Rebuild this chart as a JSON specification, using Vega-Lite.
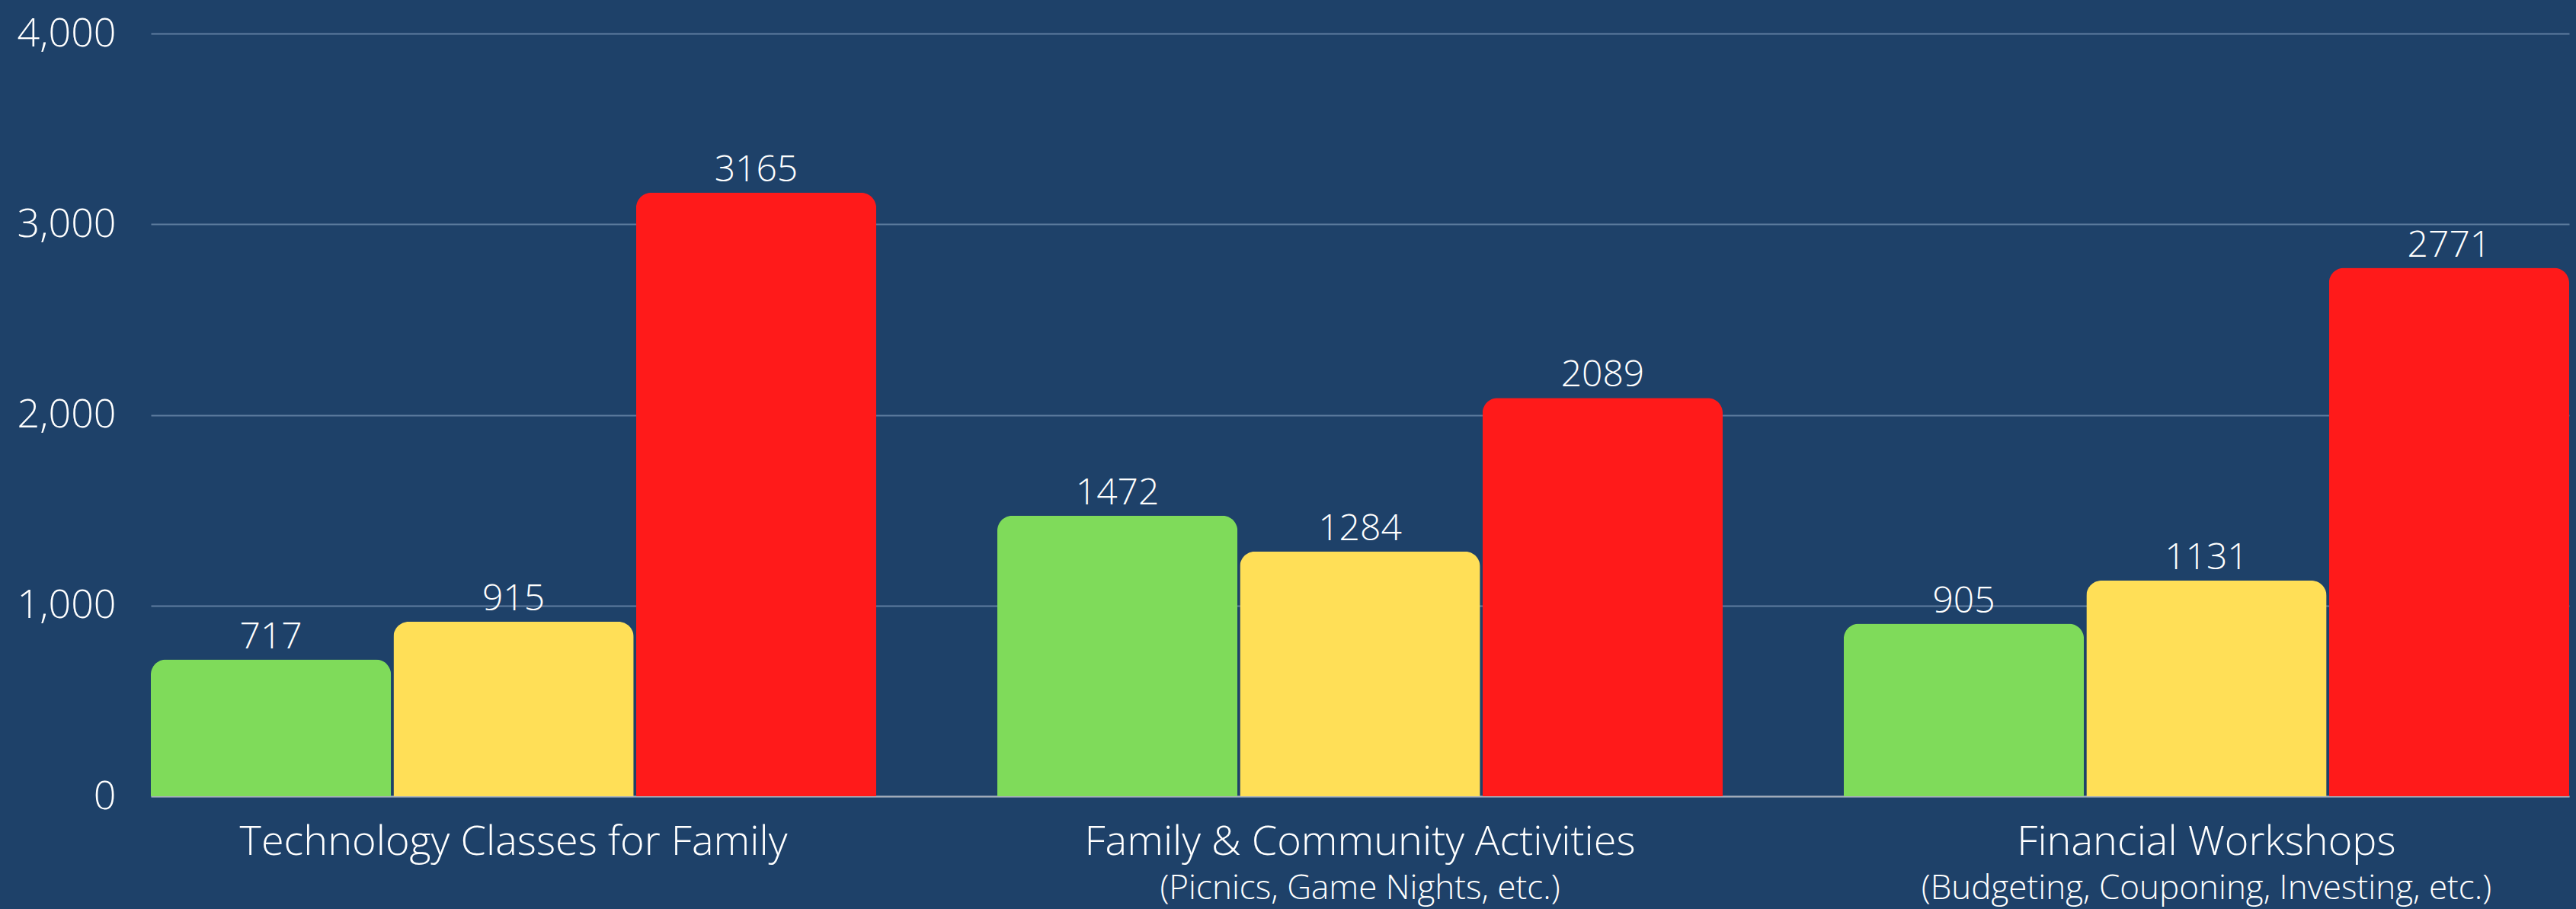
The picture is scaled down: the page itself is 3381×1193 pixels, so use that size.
{
  "$schema": "https://vega.github.io/schema/vega-lite/v6.json",
  "width": 3174,
  "height": 1001,
  "autosize": {"type": "none"},
  "padding": {"left": 198, "top": 44, "right": 9, "bottom": 148},
  "background": "#1E4169",
  "config": {"view": {"stroke": null}, "font": "Open Sans"},
  "data": {
    "values": [
      {"category": "Technology Classes for Family", "series": "Green", "value": 717},
      {"category": "Technology Classes for Family", "series": "Yellow", "value": 915},
      {"category": "Technology Classes for Family", "series": "Red", "value": 3165},
      {"category": "Family & Community Activities", "series": "Green", "value": 1472},
      {"category": "Family & Community Activities", "series": "Yellow", "value": 1284},
      {"category": "Family & Community Activities", "series": "Red", "value": 2089},
      {"category": "Financial Workshops", "series": "Green", "value": 905},
      {"category": "Financial Workshops", "series": "Yellow", "value": 1131},
      {"category": "Financial Workshops", "series": "Red", "value": 2771}
    ]
  },
  "encoding": {
    "x": {
      "field": "category",
      "type": "nominal",
      "sort": ["Technology Classes for Family", "Family & Community Activities", "Financial Workshops"],
      "scale": {"paddingInner": 0.143, "paddingOuter": 0},
      "axis": {
        "title": null,
        "labelAngle": 0,
        "labelColor": "#FFFFFF",
        "labelFontSize": 54,
        "labelFontWeight": 300,
        "labelFont": "Open Sans",
        "labelLimit": 2000,
        "labelPadding": 76,
        "labelBaseline": "alphabetic",
        "ticks": false,
        "tickSize": 0,
        "domain": true,
        "domainColor": "#A8B0BC",
        "domainWidth": 2,
        "grid": false
      }
    }
  },
  "layer": [
    {
      "mark": {"type": "bar", "cornerRadiusTopLeft": 20, "cornerRadiusTopRight": 20},
      "encoding": {
        "xOffset": {"field": "series", "type": "nominal", "sort": ["Green", "Yellow", "Red"], "scale": {"paddingInner": 0.01, "paddingOuter": 0}},
        "y": {
          "field": "value",
          "type": "quantitative",
          "scale": {"domain": [0, 4000], "nice": false},
          "axis": {
            "title": null,
            "values": [0, 1000, 2000, 3000, 4000],
            "format": ",d",
            "labelColor": "#FFFFFF",
            "labelFontSize": 52,
            "labelFontWeight": 300,
            "labelFont": "Open Sans",
            "labelPadding": 46,
            "ticks": false,
            "tickSize": 0,
            "domain": false,
            "grid": true,
            "gridColor": "#5E7D9F",
            "gridWidth": 2
          }
        },
        "color": {
          "field": "series",
          "type": "nominal",
          "scale": {"domain": ["Green", "Yellow", "Red"], "range": ["#7FDB5A", "#FFDF57", "#FF1A1A"]},
          "legend": null
        }
      }
    },
    {
      "mark": {"type": "text", "color": "#FFFFFF", "fontSize": 48, "fontWeight": 300, "font": "Open Sans", "baseline": "alphabetic", "dy": -15},
      "encoding": {
        "xOffset": {"field": "series", "type": "nominal", "sort": ["Green", "Yellow", "Red"], "scale": {"paddingInner": 0.01, "paddingOuter": 0}},
        "y": {"field": "value", "type": "quantitative"},
        "text": {"field": "value", "type": "quantitative", "format": "d"}
      }
    },
    {
      "data": {
        "values": [
          {"category": "Family & Community Activities", "sub": "(Picnics, Game Nights, etc.)"},
          {"category": "Financial Workshops", "sub": "(Budgeting, Couponing, Investing, etc.)"}
        ]
      },
      "mark": {"type": "text", "color": "#FFFFFF", "fontSize": 44, "fontWeight": 300, "font": "Open Sans", "baseline": "alphabetic", "dy": 135},
      "encoding": {
        "y": {"datum": 0, "type": "quantitative"},
        "text": {"field": "sub", "type": "nominal"}
      }
    }
  ]
}
